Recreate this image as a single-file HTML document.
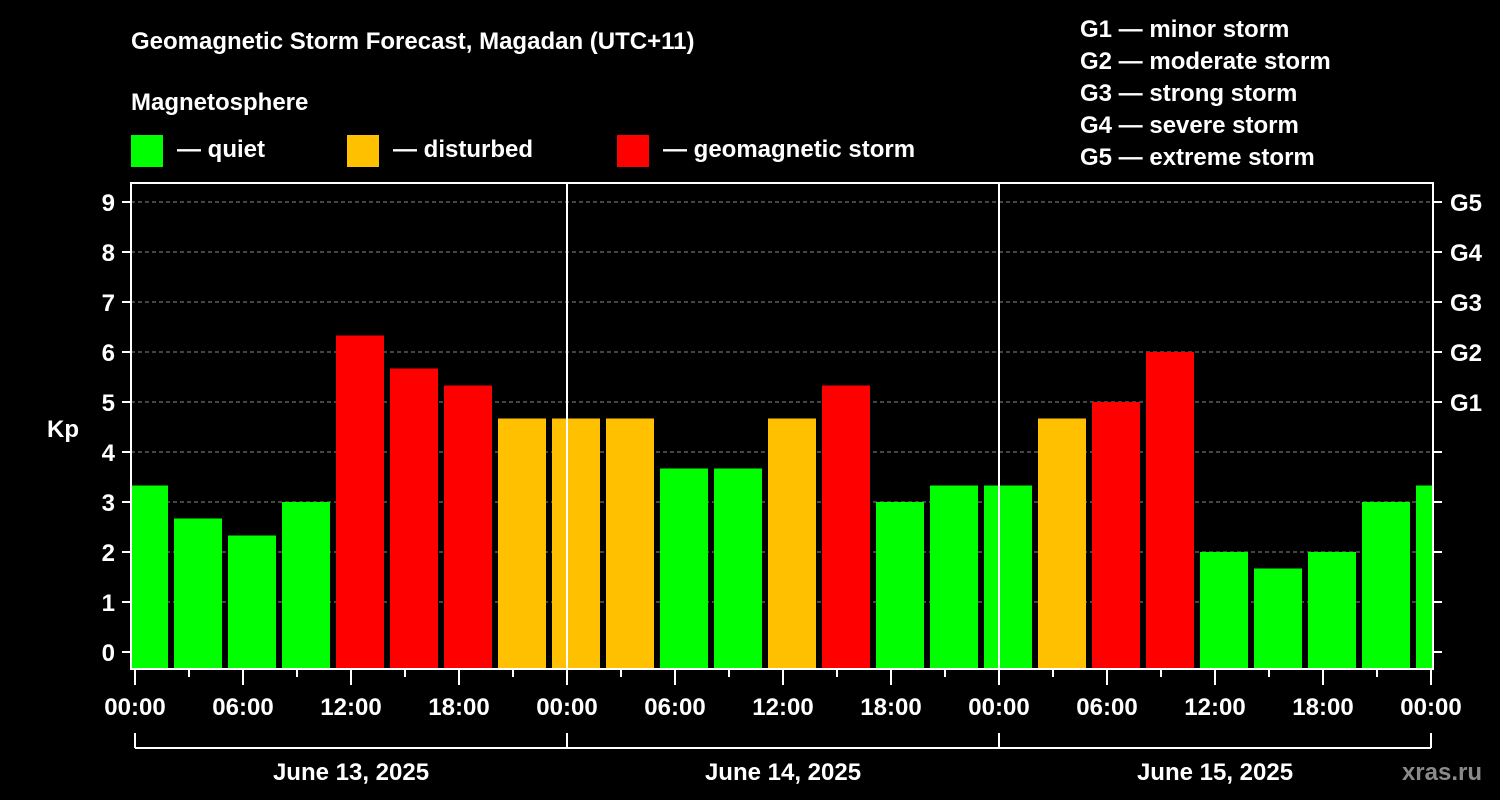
<!DOCTYPE html>
<html><head><meta charset="utf-8">
<style>
html,body{margin:0;padding:0;background:#000;width:1500px;height:800px;overflow:hidden}
svg text{font-family:"Liberation Sans",Arial,sans-serif;font-weight:bold;fill:#fff}
</style></head>
<body>
<svg id="chart" width="1500" height="800" xmlns="http://www.w3.org/2000/svg">
<rect width="1500" height="800" fill="#000"/>
<text x="131" y="49" font-size="24">Geomagnetic Storm Forecast, Magadan (UTC+11)</text>
<text x="131" y="110" font-size="24">Magnetosphere</text>
<g>
<rect x="131" y="135" width="32" height="32" fill="#00ff00"/>
<text x="177" y="157" font-size="24">— quiet</text>
<rect x="347" y="135" width="32" height="32" fill="#ffc000"/>
<text x="393" y="157" font-size="24">— disturbed</text>
<rect x="617" y="135" width="32" height="32" fill="#ff0000"/>
<text x="663" y="157" font-size="24">— geomagnetic storm</text>
</g>
<g font-size="24">
<text x="1080" y="37">G1 — minor storm</text>
<text x="1080" y="69">G2 — moderate storm</text>
<text x="1080" y="101">G3 — strong storm</text>
<text x="1080" y="133">G4 — severe storm</text>
<text x="1080" y="165">G5 — extreme storm</text>
</g>
<g id="grid"></g>
<g id="bars"></g>
<g id="axes"></g>
<text x="63" y="437" font-size="24" text-anchor="middle">Kp</text>
<text x="1482" y="780" font-size="24" fill="#888" style="fill:#8a8a8a" text-anchor="end">xras.ru</text>
</svg>
<script>
const kpValues=[3.33,2.67,2.33,3.0,6.33,5.67,5.33,4.67,4.67,4.67,3.67,3.67,4.67,5.33,3.0,3.33,3.33,4.67,5.0,6.0,2.0,1.67,2.0,3.0,3.33];
const dayLabels=["June 13, 2025","June 14, 2025","June 15, 2025"];
const hourLabels=["00:00","06:00","12:00","18:00"];
const yTicks=[0,1,2,3,4,5,6,7,8,9];
const gLabels=["G1","G2","G3","G4","G5"];
const startHour=-1;
const NS="http://www.w3.org/2000/svg";
const X0=135,PXH=18,FL=131,FR=1433,FT=183,FB=669;
const xs=h=>X0+h*PXH;
const ys=v=>652-v*50;
function mk(tag,attrs,parent){const e=document.createElementNS(NS,tag);for(const k in attrs)e.setAttribute(k,attrs[k]);parent.appendChild(e);return e;}
const grid=document.getElementById('grid'),bars=document.getElementById('bars'),axes=document.getElementById('axes');
yTicks.forEach(v=>{if(v===0)return;const l=mk('line',{x1:FL,x2:FR,y1:ys(v),y2:ys(v),stroke:'#888','stroke-dasharray':'4,3','stroke-width':1},grid);

});
kpValues.forEach((v,i)=>{
 const h0=startHour+3*i,h1=h0+3;
 let x0=xs(h0)+3,x1=xs(h1)-3;
 x0=Math.max(x0,FL+1);x1=Math.min(x1,FR-1);
 const c=v>=5?'#ff0000':(v>=4?'#ffc000':'#00ff00');
 const r=mk('rect',{x:x0,y:ys(v),width:x1-x0,height:FB-ys(v),fill:c},bars);
 
 
});
// day separators
[1,2].forEach(d=>{const l=mk('line',{x1:xs(24*d),x2:xs(24*d),y1:FT,y2:FB,stroke:'#fff','stroke-width':2},axes);

});
const fr=mk('rect',{x:FL,y:FT,width:FR-FL,height:FB-FT,fill:'none',stroke:'#fff','stroke-width':2},axes);


yTicks.forEach(v=>{
 mk('line',{x1:FL-9,x2:FL,y1:ys(v),y2:ys(v),stroke:'#fff','stroke-width':2},axes);
 mk('line',{x1:FR,x2:FR+9,y1:ys(v),y2:ys(v),stroke:'#fff','stroke-width':2},axes);
 const t=mk('text',{x:FL-16,y:ys(v)+9,'font-size':24,'text-anchor':'end'},axes);t.textContent=v;
 
 
});
gLabels.forEach((g,i)=>{const t=mk('text',{x:1450,y:ys(5+i)+9,'font-size':24},axes);t.textContent=g;

});
for(let h=0;h<=72;h+=3){
 const major=h%6===0;
 mk('line',{x1:xs(h),x2:xs(h),y1:FB,y2:FB+(major?16:8),stroke:'#fff','stroke-width':2},axes);
 if(major){const t=mk('text',{x:xs(h),y:715,'font-size':24,'text-anchor':'middle'},axes);t.textContent=hourLabels[(h%24)/6];
 
 }
}
mk('line',{x1:xs(0),x2:xs(72),y1:748,y2:748,stroke:'#fff','stroke-width':2},axes);
for(let d=0;d<=3;d++)mk('line',{x1:xs(24*d),x2:xs(24*d),y1:733,y2:748,stroke:'#fff','stroke-width':2},axes);
dayLabels.forEach((s,d)=>{const t=mk('text',{x:xs(24*d+12),y:780,'font-size':24,'text-anchor':'middle'},axes);t.textContent=s;

});
</script>
</body></html>
